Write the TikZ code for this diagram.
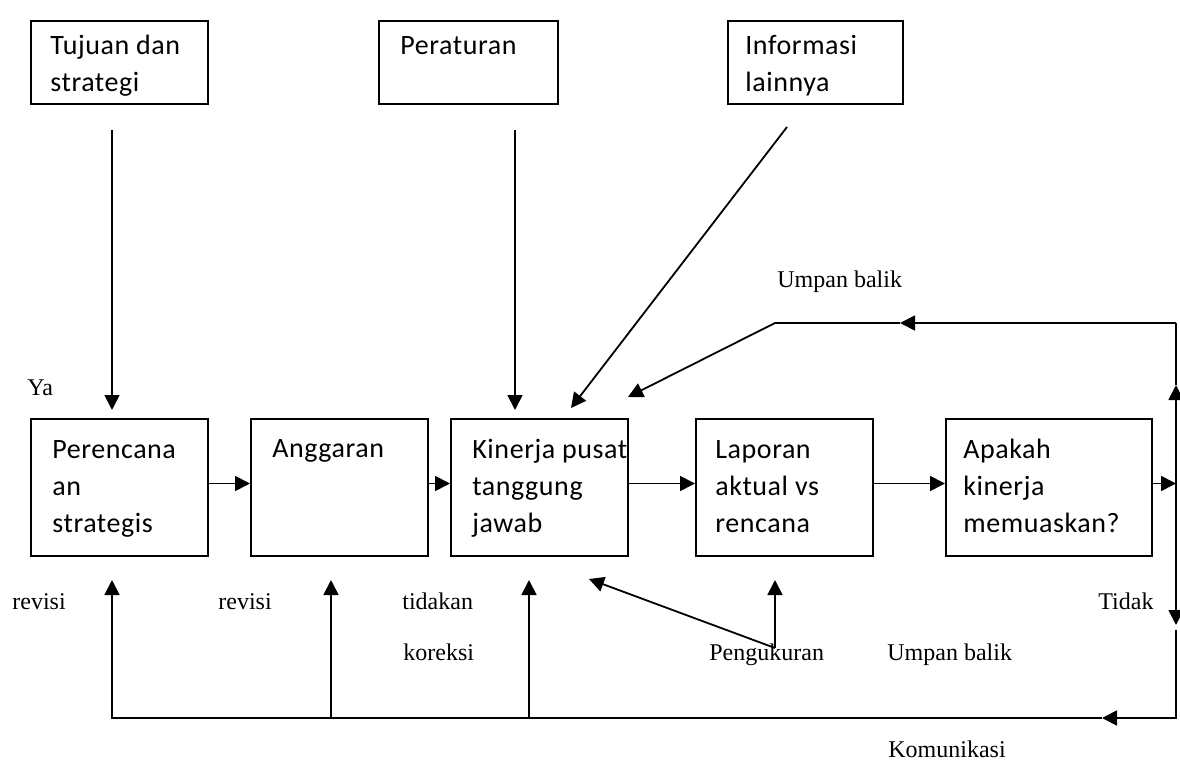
\documentclass[tikz,border=0pt]{standalone}
\usepackage{fontspec}
\setmainfont{Liberation Serif}
\newfontfamily\boxfont[LetterSpace=2]{Carlito}
\usetikzlibrary{calc}
\usetikzlibrary{positioning, arrows.meta}

\tikzset{
    box/.style={draw=black, line width=1pt, inner sep=0pt, anchor=north west},
    boxtxt/.style={font=\boxfont\fontsize{14pt}{18.5pt}\selectfont, align=left, inner sep=0pt, anchor=base west},
    lbl/.style={font=\fontsize{12pt}{14pt}\selectfont, inner sep=0pt, anchor=base west},
    line/.style={line width=0.9pt},
    arr/.style={line width=0.9pt, -{Triangle[length=7.5pt, width=7.5pt]}}
}

\begin{document}
\begin{tikzpicture}[x=0.5pt, y=-0.5pt]
    \useasboundingbox (0,0) rectangle (1180,765);

    % kotak atas (teks: baseline baris terakhir)
    \node[box, minimum width=88.5pt, minimum height=41.5pt] (tujuan) at (30,20) {};
    \node[box, minimum width=89.5pt, minimum height=41.5pt] (aturan) at (378,20) {};
    \node[box, minimum width=87.5pt, minimum height=41.5pt] (info) at (727,20) {};
    \node[boxtxt] (tujuantxt) at (50,92) {Tujuan dan\\strategi};
    \node[boxtxt] (aturantxt) at (400,55) {Peraturan};
    \node[boxtxt] (infotxt) at (745,92) {Informasi\\lainnya};

    % kotak proses
    \node[box, minimum width=88.5pt, minimum height=68.5pt] (renc) at (30,418) {};
    \node[box, minimum width=88.5pt, minimum height=68.5pt] (angg) at (250,418) {};
    \node[box, minimum width=88.5pt, minimum height=68.5pt] (kinerja) at (450,418) {};
    \node[box, minimum width=88.5pt, minimum height=68.5pt] (lapor) at (695,418) {};
    \node[box, minimum width=103pt, minimum height=68.5pt] (puas) at (945,418) {};
    \node[boxtxt] (renctxt) at (52,532) {Perencana\\an\\strategis};
    \node[boxtxt] (anggtxt) at (272,458) {Anggaran};
    \node[boxtxt] (kinerjatxt) at (472,532) {Kinerja pusat\\tanggung\\jawab};
    \node[boxtxt] (laportxt) at (715,532) {Laporan\\aktual vs\\rencana};
    \node[boxtxt] (puastxt) at (963,532) {Apakah\\kinerja\\memuaskan?};

    % titik bantu
    \coordinate (tA) at (112,130);
    \coordinate (tB) at (112,410);
    \coordinate (pA) at (515,130);
    \coordinate (pB) at (515,410);
    \coordinate (iA) at (787,127);
    \coordinate (iB) at (571,408);
    \coordinate (ubR) at (1176,323);
    \coordinate (ubM) at (900,323);
    \coordinate (ubL) at (775,323);
    \coordinate (ubT) at (628,397);
    \coordinate (rUp) at (1176,385);
    \coordinate (rMid) at (1176,482);
    \coordinate (rDn) at (1176,625);
    \coordinate (rGap) at (1176,630);
    \coordinate (rBot) at (1176,718);
    \coordinate (bArr) at (1102,718);
    \coordinate (b1) at (112,718);
    \coordinate (b2) at (331,718);
    \coordinate (b3) at (529,718);
    \coordinate (u1) at (112,580);
    \coordinate (u2) at (331,580);
    \coordinate (u3) at (529,580);
    \coordinate (ukur) at (775,648);
    \coordinate (ukT1) at (589,579);
    \coordinate (ukT2) at (775,580);

    % panah masuk
    \draw[arr] (tA) -- (tB);
    \draw[arr] (pA) -- (pB);
    \draw[arr] (iA) -- (iB);

    % alur utama
    \draw[arr] ([yshift=2pt]renc.east) -- ([yshift=2pt]angg.west);
    \draw[arr] ([yshift=2pt]angg.east) -- ([yshift=2pt]kinerja.west);
    \draw[arr] ([yshift=2pt]kinerja.east) -- ([yshift=2pt]lapor.west);
    \draw[arr] ([yshift=2pt]lapor.east) -- ([yshift=2pt]puas.west);
    \draw[arr] ([yshift=2pt]puas.east) -- ([yshift=2pt]puas.east -| rMid);

    % umpan balik atas
    \draw[arr] (ubR) -- (ubM);
    \draw[arr] (ubM) -- (ubL) -- (ubT);
    \draw[line] (ubR) -- (rUp);
    \draw[arr] (rMid) -- (rUp);
    \draw[arr] (rMid) -- (rDn);

    % komunikasi bawah
    \draw[arr] (rGap) -- (rBot) -- (bArr);
    \draw[arr] (bArr) -- (b1) -- (u1);
    \draw[arr] (b2) -- (u2);
    \draw[arr] (b3) -- (u3);

    % pengukuran
    \draw[arr] (ukur) -- (ukT1);
    \draw[arr] (ukur) -- (ukT2);

    % label
    \node[lbl] (ya) at (27,395) {Ya};
    \node[lbl] (rev1) at (12,609) {revisi};
    \node[lbl] (rev2) at (218,609) {revisi};
    \node[lbl] (tind) at (402,609) {tidakan};
    \node[lbl] (kor) at (403,660) {koreksi};
    \node[lbl] (ukurtxt) at (709,660) {Pengukuran};
    \node[lbl] (ub2) at (887,660) {Umpan balik};
    \node[lbl] (tidak) at (1098,609) {Tidak};
    \node[lbl] (kom) at (888,757) {Komunikasi};
    \node[lbl] (ub1) at (777,288) {Umpan balik};
\end{tikzpicture}
\end{document}
